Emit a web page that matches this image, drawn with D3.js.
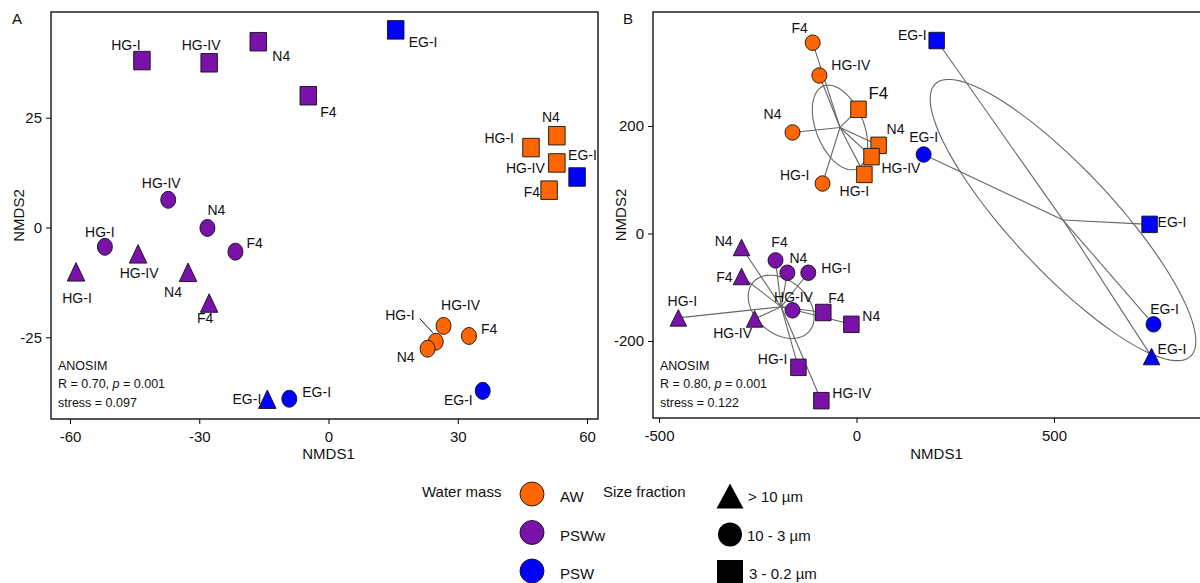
<!DOCTYPE html>
<html>
<head>
<meta charset="utf-8">
<script src="https://cdn.jsdelivr.net/npm/d3@7"></script>
<style>
  body { margin: 0; background: #fff; }
  svg { font-family: "Liberation Sans", Arial, sans-serif; }
</style>
</head>
<body>
<div id="chart"></div>
<script>
// ---- data: panel A ----
var siteA = ["HG-I", "HG-IV", "N4", "F4", "EG-I", "N4", "HG-I", "HG-IV", "F4", "EG-I",
             "HG-IV", "N4", "F4", "HG-I", "HG-I", "HG-IV", "N4", "F4",
             "HG-IV", "HG-I", "N4", "F4", "EG-I", "EG-I", "EG-I"];
var massA = ["PSWw", "PSWw", "PSWw", "PSWw", "PSW", "AW", "AW", "AW", "AW", "PSW",
             "PSWw", "PSWw", "PSWw", "PSWw", "PSWw", "PSWw", "PSWw", "PSWw",
             "AW", "AW", "AW", "AW", "PSW", "PSW", "PSW"];
var sizeA = ["sq", "sq", "sq", "sq", "sq", "sq", "sq", "sq", "sq", "sq",
             "ci", "ci", "ci", "ci", "tr", "tr", "tr", "tr",
             "ci", "ci", "ci", "ci", "ci", "ci", "tr"];
var nmds1A = [-43.3, -27.7, -16.3, -4.7, 15.6, 53.0, 47.0, 53.0, 51.2, 57.7,
              -37.2, -28.1, -21.6, -51.9, -58.6, -44.2, -32.6, -27.7,
              26.7, 24.9, 23.0, 32.6, 35.8, -9.1, -14.2];
var nmds2A = [38.0, 37.5, 42.3, 30.0, 45.0, 20.9, 18.2, 14.7, 8.5, 11.5,
              6.3, -0.1, -5.5, -4.4, -10.1, -6.0, -10.2, -17.2,
              -22.4, -26.0, -27.6, -24.7, -37.2, -39.0, -39.1];

// ---- data: panel B ----
var siteB = ["F4", "HG-IV", "N4", "HG-I", "F4", "N4", "HG-IV", "HG-I",
             "EG-I", "EG-I", "EG-I", "EG-I", "EG-I",
             "N4", "F4", "HG-I", "HG-IV", "F4", "N4", "HG-I", "HG-IV",
             "F4", "N4", "HG-I", "HG-IV"];
var massB = ["AW", "AW", "AW", "AW", "AW", "AW", "AW", "AW",
             "PSW", "PSW", "PSW", "PSW", "PSW",
             "PSWw", "PSWw", "PSWw", "PSWw", "PSWw", "PSWw", "PSWw", "PSWw",
             "PSWw", "PSWw", "PSWw", "PSWw"];
var sizeB = ["ci", "ci", "ci", "ci", "sq", "sq", "sq", "sq",
             "sq", "ci", "sq", "ci", "tr",
             "tr", "tr", "tr", "tr", "ci", "ci", "ci", "ci",
             "sq", "sq", "sq", "sq"];
var nmds1B = [-111, -94, -162, -86, 5, 56, 38, 20,
              203, 170, 742, 752, 747,
              -291, -291, -451, -258, -205, -175, -122, -162,
              -84, -13, -147, -89];
var nmds2B = [355, 294, 188, 93, 231, 164, 143, 110,
              359, 147, 17, -169, -229,
              -26, -80, -157, -159, -50, -73, -73, -143,
              -147, -169, -249, -311];

var ticksA_x = [-60, -30, 0, 30, 60];
var ticksA_y = [-25, 0, 25];
var ticksB_x = [-500, 0, 500];
var ticksB_y = [-200, 0, 200];

var masses = ["AW", "PSWw", "PSW"];
var sizeNames = ["> 10 \u00b5m", "10 - 3 \u00b5m", "3 - 0.2 \u00b5m"];
var statsA = ["ANOSIM", "0.70", "0.001", "0.097"];
var statsB = ["ANOSIM", "0.80", "0.001", "0.122"];

// label placement relative to marker [dx, dy, anchor]
var nudgeA = [[-16, -11, "middle"], [-8, -13, "middle"], [14, 19, "start"], [12, 21, "start"], [13, 17, "start"],
              [-6, -14, "middle"], [-17, -5, "end"], [-12, 10, "end"], [-9, 7, "end"], [-9, -17, "start"],
              [-7, -12, "middle"], [9, -13, "middle"], [11, -4, "start"], [-5, -10, "middle"],
              [1, 31, "middle"], [1, 24, "middle"], [-15, 25, "middle"], [-4, 20, "middle"],
              [17, -16, "middle"], [-21, -22, "end", true], [-13, 13, "end"], [12, -2, "start"],
              [-10, 14, "end"], [13, -2, "start"], [-6, 5, "end"]];
var nudgeB = [[-13, -10, "middle"], [12, -5, "start"], [-11, -13, "end"], [-13, -4, "end"],
              [10, -10, "start", false, 17], [8, -11, "start"], [10, 16, "start"], [-10, 22, "middle"],
              [-10, -1, "end"], [0, -12, "middle"], [8, 3, "start"], [11, -10, "middle"], [6, -3, "start"],
              [-9, -1, "end"], [-9, 5, "end"], [4, -12, "middle"], [-22, 19, "middle"],
              [4, -13, "middle"], [2, -10, "start"], [13, 0, "start"], [1, -8, "middle"],
              [5, -10, "start"], [11, -3, "start"], [-11, -3, "end"], [11, -3, "start"]];

var color = d3.scaleOrdinal().domain(masses).range(["#ff6600", "#7a12aa", "#0000ff"]);

var svg = d3.select("#chart").append("svg")
    .attr("width", 1200)
    .attr("height", 583);

// marker path, w/h are full width/height
function marker(shape, cx, cy, w, h) {
    if (shape == "sq") {
        return `M${cx - w / 2},${cy - h / 2}h${w}v${h}h${-w}Z`;
    } else if (shape == "tr") {
        return `M${cx},${cy - h / 2}L${cx + w / 2},${cy + h / 2}L${cx - w / 2},${cy + h / 2}Z`;
    }
    var rx = w / 2, ry = h / 2;
    return `M${cx - rx},${cy}a${rx},${ry} 0 1,0 ${2 * rx},0a${rx},${ry} 0 1,0 ${-2 * rx},0Z`;
}

function drawPanel(opt) {
    var g = svg.append("g");
    var x = d3.scaleLinear().domain(opt.xd).range(opt.xr);
    var y = d3.scaleLinear().domain(opt.yd).range(opt.yr);
    var box = opt.box;

    var pts = opt.site.map((s, i) => ({
        site: s, mass: opt.mass[i], size: opt.size[i],
        x: opt.n1[i], y: opt.n2[i], nudge: opt.nudge[i]
    }));

    // axes (plain hyphen for negatives like the original)
    g.append("g")
        .attr("transform", `translate(0,${box[3]})`)
        .call(d3.axisBottom(x).tickValues(opt.tx).tickFormat(d => String(d))
            .tickSize(5).tickPadding(7).tickSizeOuter(0))
        .call(a => a.select(".domain").remove())
        .call(a => a.selectAll("text").attr("font-size", 15).attr("font-family", null).attr("fill", "#111"));
    g.append("g")
        .attr("transform", `translate(${box[0]},0)`)
        .call(d3.axisLeft(y).tickValues(opt.ty).tickFormat(d => String(d))
            .tickSize(5).tickPadding(4).tickSizeOuter(0))
        .call(a => a.select(".domain").remove())
        .call(a => a.selectAll("text").attr("font-size", 15).attr("font-family", null).attr("fill", "#111"));

    g.append("rect")
        .attr("x", box[0]).attr("y", box[1])
        .attr("width", box[2] - box[0]).attr("height", box[3] - box[1])
        .attr("fill", "none").attr("stroke", "#111").attr("stroke-width", 1.4);

    // spiders and se ellipses
    if (opt.spider) {
        var k = Math.sqrt(-2 * Math.log(0.05));
        masses.forEach(m => {
            var grp = pts.filter(p => p.mass == m);
            var n = grp.length;
            var mx = d3.mean(grp, p => p.x), my = d3.mean(grp, p => p.y);
            grp.forEach(p => {
                g.append("line")
                    .attr("x1", x(mx)).attr("y1", y(my))
                    .attr("x2", x(p.x)).attr("y2", y(p.y))
                    .attr("stroke", "#666").attr("stroke-width", 1.1);
            });
            var sxx = d3.sum(grp, p => (p.x - mx) * (p.x - mx)) / (n - 1) / n;
            var syy = d3.sum(grp, p => (p.y - my) * (p.y - my)) / (n - 1) / n;
            var sxy = d3.sum(grp, p => (p.x - mx) * (p.y - my)) / (n - 1) / n;
            var a = Math.sqrt(sxx), b = sxy / a, c = Math.sqrt(syy - b * b);
            var ell = d3.range(0, 101).map(j => {
                var t = j / 100 * 2 * Math.PI;
                return [x(mx + k * a * Math.cos(t)), y(my + k * (b * Math.cos(t) + c * Math.sin(t)))];
            });
            g.append("path")
                .attr("d", d3.line()(ell))
                .attr("fill", "none").attr("stroke", "#666").attr("stroke-width", 1.1);
        });
    }

    // markers
    g.selectAll(".pt")
        .data(pts)
        .enter()
        .append("path")
        .attr("class", "pt")
        .attr("d", d => marker(d.size, x(d.x), y(d.y), opt.mw[d.size][0], opt.mw[d.size][1]))
        .attr("fill", d => color(d.mass))
        .attr("stroke", "#111")
        .attr("stroke-width", 0.9);

    // point labels
    g.selectAll(".lab")
        .data(pts)
        .enter()
        .append("text")
        .attr("class", "lab")
        .attr("x", d => x(d.x) + d.nudge[0])
        .attr("y", d => y(d.y) + d.nudge[1])
        .attr("text-anchor", d => d.nudge[2])
        .attr("font-size", d => d.nudge[4] || 14)
        .attr("fill", "#111")
        .text(d => d.site);

    pts.filter(d => d.nudge[3]).forEach(d => {
        g.append("line")
            .attr("x1", x(d.x) - 16).attr("y1", y(d.y) - 23)
            .attr("x2", x(d.x) - 3).attr("y2", y(d.y) - 9)
            .attr("stroke", "#111").attr("stroke-width", 1);
    });

    // stats text
    var st = g.append("g").attr("font-size", 12.5).attr("fill", "#111");
    st.append("text").attr("x", box[0] + 7).attr("y", 370).text(opt.stats[0]);
    var r = st.append("text").attr("x", box[0] + 7).attr("y", 388);
    r.append("tspan").text(`R = ${opt.stats[1]}, `);
    r.append("tspan").attr("font-style", "italic").text("p");
    r.append("tspan").text(` = ${opt.stats[2]}`);
    st.append("text").attr("x", box[0] + 7).attr("y", 407).text(`stress = ${opt.stats[3]}`);

    // axis titles and panel letter
    g.append("text")
        .attr("x", (box[0] + Math.min(box[2], 1200)) / 2 + opt.titleShift).attr("y", 459)
        .attr("text-anchor", "middle").attr("font-size", 15).attr("fill", "#111")
        .text("NMDS1");
    g.append("text")
        .attr("transform", `translate(${box[0] - 27},${(box[1] + box[3]) / 2}) rotate(-90)`)
        .attr("text-anchor", "middle").attr("font-size", 15).attr("fill", "#111")
        .text("NMDS2");
    g.append("text")
        .attr("x", opt.letterX).attr("y", 24)
        .attr("font-size", 15).attr("fill", "#111")
        .text(opt.letter);
}

drawPanel({
    site: siteA, mass: massA, size: sizeA, n1: nmds1A, n2: nmds2A, nudge: nudgeA,
    xd: [-60, 60], xr: [70, 587], yd: [-25, 25], yr: [337.3, 117.7],
    tx: ticksA_x, ty: ticksA_y, box: [51, 12, 598, 419],
    mw: { ci: [15, 17], sq: [16.5, 18.5], tr: [17.5, 18.5] },
    spider: false, stats: statsA, letter: "A", letterX: 12, titleShift: 4
});

drawPanel({
    site: siteB, mass: massB, size: sizeB, n1: nmds1B, n2: nmds2B, nudge: nudgeB,
    xd: [-500, 500], xr: [659, 1054], yd: [-200, 200], yr: [341, 126],
    tx: ticksB_x, ty: ticksB_y, box: [653, 12, 1205, 418],
    mw: { ci: [15, 15.5], sq: [15.5, 16.5], tr: [16.5, 16.5] },
    spider: true, stats: statsB, letter: "B", letterX: 623, titleShift: 10
});

// ---- legend ----
var leg = svg.append("g").attr("font-size", 15).attr("fill", "#111");
leg.append("text").attr("x", 422).attr("y", 497).text("Water mass");
leg.append("text").attr("x", 603).attr("y", 497).text("Size fraction");

var legY = d3.scalePoint().domain([0, 1, 2]).range([494, 571]);

leg.selectAll(".wm")
    .data(masses)
    .enter()
    .append("circle")
    .attr("cx", 532)
    .attr("cy", (d, i) => legY(i))
    .attr("r", 12)
    .attr("fill", d => color(d))
    .attr("stroke", "#111")
    .attr("stroke-width", 0.9);

leg.selectAll(".wmt")
    .data(masses)
    .enter()
    .append("text")
    .attr("x", 560)
    .attr("y", (d, i) => legY(i) + 8)
    .text(d => d);

var legShapes = ["tr", "ci", "sq"];
leg.selectAll(".sf")
    .data(legShapes)
    .enter()
    .append("path")
    .attr("d", (d, i) => marker(d, 730, legY(i) + 2, d == "tr" ? 27 : (d == "sq" ? 26 : 24), d == "tr" ? 25 : (d == "sq" ? 26 : 24)))
    .attr("fill", "#000");

leg.selectAll(".sft")
    .data(sizeNames)
    .enter()
    .append("text")
    .attr("x", (d, i) => [748, 747, 749][i])
    .attr("y", (d, i) => legY(i) + 8)
    .text(d => d);
</script>
</body>
</html>
